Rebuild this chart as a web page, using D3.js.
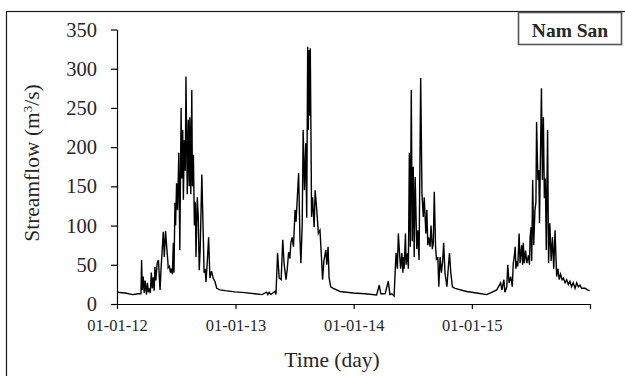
<!DOCTYPE html>
<html>
<head>
<meta charset="utf-8">
<script src="https://cdn.jsdelivr.net/npm/d3@7"></script>
<style>
  html, body { margin: 0; padding: 0; background: #fff; }
  svg { display: block; }
  text { font-family: "Liberation Serif", "Times New Roman", serif; fill: #262626; }
</style>
</head>
<body>
<svg id="chart" width="625" height="376"></svg>
<script>
// days since 01-01-12 (daily record thinned to its visible turning points)
const dayOfRecord = [
  0, 25, 49, 65, 74, 76, 78, 81, 84, 87, 91, 94, 97, 100, 103, 106, 109, 112, 115, 117,
  120, 124, 128, 131, 133, 136, 139, 143, 146, 150, 154, 157, 158, 162, 165, 168, 171, 174, 176, 179,
  181, 184, 187, 191, 194, 198, 200, 203, 205, 208, 211, 213, 217, 220, 223, 225, 228, 231, 233, 236,
  239, 242, 244, 248, 251, 254, 257, 262, 266, 269, 272, 275, 280, 283, 287, 292, 297, 303, 308, 318,
  334, 364, 395, 426, 448, 462, 466, 470, 475, 481, 488, 491, 496, 501, 507, 512, 516, 522, 526, 530,
  534, 537, 541, 545, 550, 553, 557, 561, 565, 568, 572, 575, 579, 583, 586, 589, 591, 593, 595, 597,
  599, 601, 604, 609, 612, 617, 622, 627, 632, 635, 639, 645, 648, 652, 655, 660, 668, 689, 729, 766,
  802, 810, 815, 828, 838, 843, 849, 856, 859, 862, 866, 869, 872, 876, 880, 883, 884, 887, 891, 893,
  897, 900, 903, 906, 909, 912, 915, 918, 921, 926, 929, 933, 938, 942, 946, 949, 954, 957, 960, 963,
  967, 970, 974, 977, 980, 984, 987, 991, 994, 998, 1002, 1006, 1009, 1013, 1019, 1024, 1027, 1031, 1036, 1044,
  1080, 1111, 1142, 1152, 1173, 1185, 1189, 1195, 1198, 1204, 1207, 1211, 1216, 1221, 1224, 1227, 1230, 1232, 1235, 1238,
  1242, 1245, 1250, 1253, 1255, 1258, 1262, 1266, 1271, 1274, 1276, 1279, 1281, 1284, 1287, 1291, 1294, 1296, 1300, 1303,
  1305, 1308, 1311, 1314, 1317, 1320, 1323, 1326, 1330, 1333, 1337, 1341, 1345, 1349, 1353, 1358, 1362, 1366, 1370, 1375,
  1379, 1384, 1389, 1394, 1399, 1404, 1409, 1415, 1420, 1425, 1430, 1435, 1446, 1453, 1460
];

// streamflow (m3/s) on those days
const streamflow = [
  15, 14, 12, 13, 13, 56, 18, 35, 14, 30, 12, 27, 15, 20, 14, 40, 20, 34, 17, 47,
  30, 52, 56, 32, 18, 45, 65, 92, 60, 93, 70, 55, 46, 48, 40, 45, 38, 78, 40, 129,
  100, 154, 120, 193, 69, 250, 160, 222, 133, 209, 170, 290, 140, 235, 150, 238, 140, 273, 150, 190,
  100, 130, 60, 136, 111, 43, 70, 165, 95, 40, 45, 28, 62, 85, 33, 42, 33, 28, 20, 18,
  17, 15.5, 14.5, 13, 12, 15, 12, 15, 12, 14, 16, 12, 65, 33, 31, 82, 52, 31, 45, 66,
  58, 78, 85, 73, 120, 105, 136, 167, 85, 52, 100, 222, 145, 205, 110, 328, 222, 324, 240, 326,
  222, 111, 136, 98, 145, 120, 90, 94, 56, 31, 55, 69, 50, 73, 34, 22, 20, 16, 14, 13,
  11.5, 24, 13, 13, 29, 12, 13, 10, 40, 65, 45, 90, 69, 45, 65, 40, 60, 45, 90, 50,
  65, 45, 193, 73, 273, 80, 175, 60, 162, 70, 94, 56, 288, 141, 111, 136, 90, 120, 75, 85,
  73, 100, 70, 78, 143, 73, 56, 60, 22, 60, 40, 55, 78, 40, 22, 50, 65, 40, 22, 20,
  16, 14, 12, 14, 18, 27, 18, 31, 15, 22, 50, 27, 35, 22, 52, 60, 73, 45, 55, 48,
  90, 52, 75, 50, 78, 52, 68, 52, 62, 50, 85, 98, 55, 158, 75, 120, 130, 232, 158, 171,
  103, 190, 275, 158, 238, 135, 160, 69, 222, 52, 103, 55, 85, 45, 94, 35, 45, 31, 38, 31,
  33, 27, 31, 25, 29, 22, 27, 20, 27, 22, 24, 20, 20, 18, 17
];

const yTicks = [0, 50, 100, 150, 200, 250, 300, 350];
const xTickDates = ["2012-01-01", "2013-01-01", "2014-01-01", "2015-01-01", "2016-01-01"];
const xTickLabels = ["01-01-12", "01-01-13", "01-01-14", "01-01-15", ""];
const stationName = "Nam San";

const parse = d3.timeParse("%Y-%m-%d");
const start = parse(xTickDates[0]);
const data = dayOfRecord.map((d, i) => ({ date: d3.timeDay.offset(start, d), value: streamflow[i] }));

const svg = d3.select("#chart");
const plot = { left: 117, right: 590, top: 29.5, bottom: 304 };
const serif = "'Liberation Serif', 'Times New Roman', serif";

svg.append("rect").attr("width", 625).attr("height", 376).attr("fill", "#fff");

// outer frame of the chart area (runs off the right and bottom of the picture)
svg.append("rect")
  .attr("x", 6.5).attr("y", 11.5)
  .attr("width", 700).attr("height", 500)
  .attr("fill", "none").attr("stroke", "#1a1a1a").attr("stroke-width", 1.2);

const x = d3.scaleTime()
  .domain([parse(xTickDates[0]), parse(xTickDates[xTickDates.length - 1])])
  .range([plot.left, plot.right]);
const y = d3.scaleLinear().domain([0, 350]).range([plot.bottom, plot.top]);

// y axis
const yAxis = svg.append("g")
  .attr("transform", `translate(${plot.left},0)`)
  .attr("font-family", serif)
  .call(d3.axisLeft(y).tickValues(yTicks).tickSize(6).tickSizeOuter(0).tickPadding(14));
yAxis.selectAll("text").style("font-size", "20.5px").attr("fill", "#262626");

// x axis
const xAxis = svg.append("g")
  .attr("transform", `translate(0,${plot.bottom})`)
  .attr("font-family", serif)
  .call(d3.axisBottom(x)
    .tickValues(xTickDates.map(parse))
    .tickFormat((d, i) => xTickLabels[i])
    .tickSize(5).tickSizeOuter(0).tickPadding(10));
xAxis.selectAll("text").style("font-size", "16.5px").attr("fill", "#262626");

svg.selectAll(".domain, .tick line").attr("stroke", "#000").attr("stroke-width", 1.2);

// streamflow line
svg.append("path")
  .datum(data)
  .attr("fill", "none")
  .attr("stroke", "#000")
  .attr("stroke-width", 1.4)
  .attr("stroke-linejoin", "miter")
  .attr("d", d3.line().x(d => x(d.date)).y(d => y(d.value)));

// axis titles
const yTitle = svg.append("text")
  .attr("transform", "translate(39,163) rotate(-90)")
  .attr("text-anchor", "middle")
  .style("font-size", "21.5px");
yTitle.append("tspan").text("Streamflow (m");
yTitle.append("tspan").attr("baseline-shift", "super").style("font-size", "13px").text("3");
yTitle.append("tspan").text("/s)");

svg.append("text")
  .attr("x", 332).attr("y", 367)
  .attr("text-anchor", "middle")
  .style("font-size", "21.5px")
  .text("Time (day)");

// station label box
svg.append("rect")
  .attr("x", 518.5).attr("y", 12.5).attr("width", 103).attr("height", 32)
  .attr("fill", "#fff").attr("stroke", "#555").attr("stroke-width", 1.6);
svg.append("text")
  .attr("x", 570).attr("y", 36.5)
  .attr("text-anchor", "middle")
  .style("font-size", "19.5px").style("font-weight", "bold")
  .attr("fill", "#111")
  .text(stationName);
</script>
</body>
</html>
